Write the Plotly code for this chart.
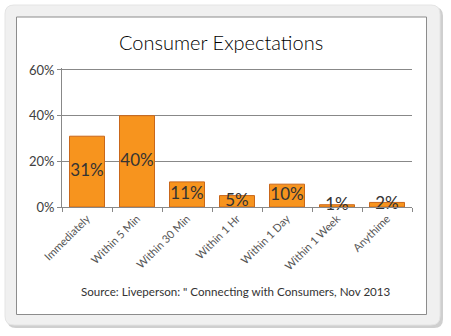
import plotly.graph_objects as go

categories = ["Immediately", "Within 5 Min", "Within 30 Min", "Within 1 Hr", "Within 1 Day", "Within 1 Week", "Anythime"]
values = [31, 40, 11, 5, 10, 1, 2]
labels = [f"{v}%" for v in values]
y_ticks = [0, 20, 40, 60]
y_tick_labels = ["0%", "20%", "40%", "60%"]

W, H = 451, 336
def px(x): return x / W
def py(y): return 1 - y / H

fig = go.Figure()
fig.add_trace(go.Bar(
    x=categories, y=values, width=0.7,
    marker=dict(color="#F7941E", line=dict(color="#C9671A", width=1)),
    hoverinfo="skip", showlegend=False,
))
fig.add_trace(go.Scatter(
    x=categories, y=[v / 2 for v in values], mode="text", text=labels,
    textfont=dict(family="Lato", size=17, color="#333333"),
    hoverinfo="skip", showlegend=False, cliponaxis=False,
))

def rrect(x0, y0, x1, y1, r):
    X0, X1 = px(x0), px(x1)
    Y0, Y1 = py(y0), py(y1)
    rx, ry = r / W, r / H
    return (f"M{X0+rx},{Y0} L{X1-rx},{Y0} Q{X1},{Y0} {X1},{Y0-ry} L{X1},{Y1+ry} Q{X1},{Y1} {X1-rx},{Y1} "
            f"L{X0+rx},{Y1} Q{X0},{Y1} {X0},{Y1+ry} L{X0},{Y0-ry} Q{X0},{Y0} {X0+rx},{Y0} Z")

shapes = [
    dict(type="path", xref="paper", yref="paper", layer="below",
         path=rrect(7, 7, 443, 328, 9), fillcolor="#cfcfcf", line=dict(width=0)),
    dict(type="path", xref="paper", yref="paper", layer="below",
         path=rrect(5, 5, 440, 325, 9), fillcolor="#f0f0f0", line=dict(color="#e4e4e4", width=1)),
    dict(type="rect", xref="paper", yref="paper", layer="below",
         x0=px(16.5), x1=px(426.5), y0=py(17), y1=py(314.5),
         fillcolor="white", line=dict(color="#8c8c8c", width=1)),
]

fig.update_layout(
    width=W, height=H, margin=dict(l=0, r=0, t=0, b=0, autoexpand=False),
    paper_bgcolor="white", plot_bgcolor="rgba(0,0,0,0)",
    shapes=shapes, bargap=0.3,
    font=dict(family="Lato", color="#404040"),
    xaxis=dict(domain=[px(62), px(412)], tickson="boundaries", ticks="outside", ticklen=4,
               tickcolor="#888888", showline=True, linecolor="#888888", showgrid=False,
               automargin=False,
               tickangle=-45, tickfont=dict(size=11, color="#555555", weight=400), fixedrange=True),
    yaxis=dict(domain=[py(207), py(67.7)], range=[0, 61], tickvals=y_ticks, ticktext=y_tick_labels,
               ticks="outside", ticklen=4, tickcolor="#888888", showline=True, linecolor="#888888",
               gridcolor="#888888", gridwidth=1, zeroline=False, automargin=False,
               tickfont=dict(size=13, color="#404040", weight=400), fixedrange=True),
    annotations=[
        dict(text="Consumer Expectations", xref="paper", yref="paper", x=px(221), y=py(42),
             showarrow=False, font=dict(family="Lato", size=20, color="#000000", weight=300),
             xanchor="center", yanchor="middle"),
        dict(text="Source: Liveperson: \" Connecting with Consumers, Nov 2013", xref="paper", yref="paper",
             x=px(236), y=py(291), showarrow=False,
             font=dict(family="Lato", size=11.6, color="#333333", weight=400), xanchor="center", yanchor="middle"),
    ],
)
fig.write_html("out.html")
